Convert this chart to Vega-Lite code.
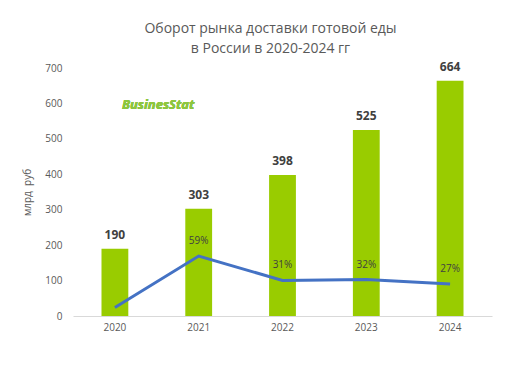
{
  "$schema": "https://vega.github.io/schema/vega-lite/v6.json",
  "autosize": {"type": "none"},
  "width": 419,
  "height": 248,
  "padding": {"left": 73, "top": 68, "right": 30, "bottom": 50},
  "background": "white",
  "config": {
    "view": {"stroke": null},
    "font": "Open Sans",
    "axisY": {"labelOverlap": false, "labelFlush": false, "labelBound": false}
  },
  "title": {
    "text": ["Оборот рынка доставки готовой еды", "в России в  2020-2024 гг"],
    "font": "Open Sans",
    "fontSize": 14,
    "fontWeight": "normal",
    "color": "#595959",
    "lineHeight": 20,
    "anchor": "middle",
    "dx": -12,
    "offset": 5
  },
  "data": {
    "values": [
      {"year": "2020", "value": 190, "growth": 0, "label": ""},
      {"year": "2021", "value": 303, "growth": 59, "label": "59%"},
      {"year": "2022", "value": 398, "growth": 31, "label": "31%"},
      {"year": "2023", "value": 525, "growth": 32, "label": "32%"},
      {"year": "2024", "value": 664, "growth": 27, "label": "27%"}
    ]
  },
  "encoding": {
    "x": {
      "field": "year",
      "type": "ordinal",
      "scale": {"paddingInner": 0.68, "paddingOuter": 0.34},
      "axis": {
        "title": null,
        "labelAngle": 0,
        "labelColor": "#595959",
        "labelFontSize": 10,
        "labelPadding": 6,
        "ticks": false,
        "domainColor": "#d9d9d9",
        "domainWidth": 1
      }
    }
  },
  "layer": [
    {
      "encoding": {
        "y": {
          "field": "value",
          "type": "quantitative",
          "scale": {"domain": [0, 700]},
          "axis": {
            "title": "млрд\u00a0\u00a0руб",
            "titleFontWeight": "normal",
            "titleFontSize": 10,
            "titleColor": "#595959",
            "titlePadding": 12,
            "values": [0, 100, 200, 300, 400, 500, 600, 700],
            "labelOverlap": false,
            "labelColor": "#595959",
            "labelFontSize": 10,
            "labelPadding": 11,
            "ticks": false,
            "domain": false,
            "grid": false
          }
        }
      },
      "layer": [
        {
          "mark": {"type": "bar", "color": "#99CC00"}
        },
        {
          "mark": {"type": "text", "fontWeight": "bold", "fontSize": 12, "color": "#404040", "dy": -14},
          "encoding": {
            "text": {"field": "value", "type": "quantitative"}
          }
        },
        {
          "mark": {"type": "text", "text": "BusinesStat", "fontWeight": "bold", "fontStyle": "italic", "fontSize": 13, "color": "#8DC63F", "align": "left", "dx": 7},
          "encoding": {
            "x": {"datum": "2020"},
            "y": {"datum": 595}
          }
        }
      ]
    },
    {
      "encoding": {
        "y": {
          "field": "growth",
          "type": "quantitative",
          "scale": {"domain": [-9.76, 274.8]},
          "axis": null
        }
      },
      "layer": [
        {
          "mark": {"type": "line", "color": "#4472C4", "strokeWidth": 3}
        },
        {
          "mark": {"type": "text", "fontSize": 10, "color": "#404040", "dy": -15},
          "encoding": {
            "text": {"field": "label"}
          }
        }
      ]
    }
  ],
  "resolve": {"scale": {"y": "independent"}}
}
